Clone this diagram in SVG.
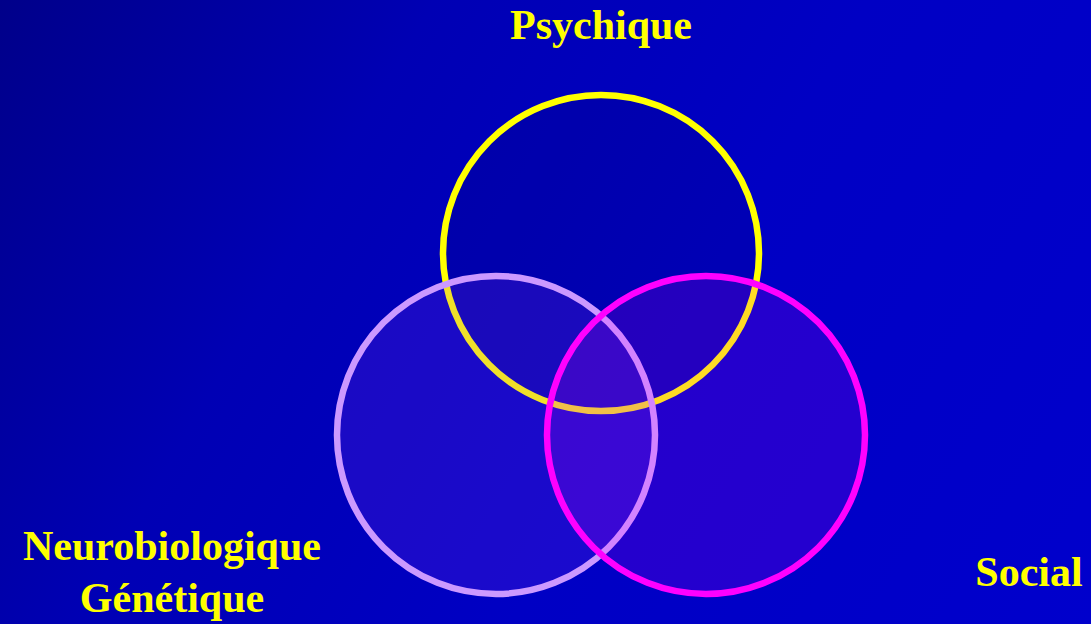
<svg xmlns="http://www.w3.org/2000/svg" width="1091" height="624" viewBox="0 0 1091 624">
  <defs>
    <linearGradient id="bg" x1="0" y1="0" x2="1091" y2="624" gradientUnits="userSpaceOnUse">
      <stop offset="0" stop-color="#00008A"/>
      <stop offset="0.3" stop-color="#0000B4"/>
      <stop offset="0.6" stop-color="#0000C4"/>
      <stop offset="1" stop-color="#0000CC"/>
    </linearGradient>
  </defs>
  <style>
    .ring { stroke-width: 6.5; }
    .label { font-family: "Liberation Serif", "Times New Roman", serif; font-weight: bold; font-size: 42px; fill: #FFFF00; text-anchor: middle; }
  </style>
  <rect width="1091" height="624" fill="url(#bg)"/>
  <g id="psychique">
    <circle class="ring" cx="601" cy="253" r="158" fill="#000030" fill-opacity="0.1" stroke="#FFFF00"/>
    <text class="label" x="601" y="39">Psychique</text>
  </g>
  <g id="neurobiologique">
    <circle class="ring" cx="496" cy="435" r="159" fill="#A040FF" fill-opacity="0.16" stroke="#CC99FF"/>
    <text class="label" x="172" y="560">Neurobiologique</text>
    <text class="label" x="172" y="612">Génétique</text>
  </g>
  <g id="social">
    <circle class="ring" cx="706" cy="435" r="159" fill="#FF00FF" fill-opacity="0.14" stroke="#FF00FF"/>
    <text class="label" x="1029" y="586">Social</text>
  </g>
  <g id="connectors"/>
</svg>
